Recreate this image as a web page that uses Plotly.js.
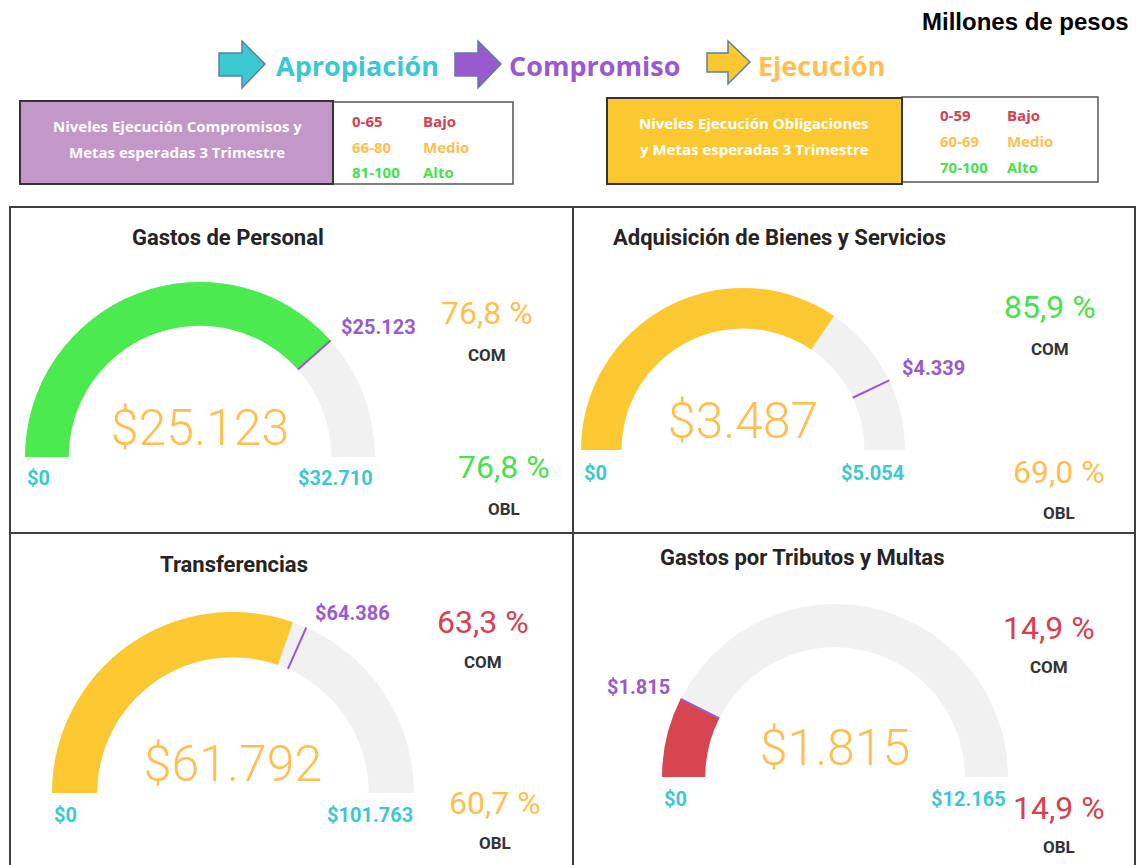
<!DOCTYPE html>
<html>
<head>
<meta charset="utf-8">
<script src="https://cdn.plot.ly/plotly-3.0.1.min.js"></script>
<style>
html,body{margin:0;padding:0;background:#fff;}
#chart{width:1137px;height:865px;}
</style>
</head>
<body>
<div id="chart"></div>
<script>
// ---------------- DATA ----------------
const categorias = ['Gastos de Personal', 'Adquisición de Bienes y Servicios', 'Transferencias', 'Gastos por Tributos y Multas'];
const apropiacion = [32710, 5054, 101763, 12165];   // Apropiación (máximo del medidor)
const compromiso  = [25123, 4339, 64386, 1815];     // Compromiso (umbral)
const obligacion  = [25123, 3487, 61792, 1815];     // Ejecución / obligación (valor)
const pctCom      = [76.8, 85.9, 63.3, 14.9];
const pctObl      = [76.8, 69.0, 60.7, 14.9];
const etapas      = ['Apropiación', 'Compromiso', 'Ejecución'];
const nivelesCom  = [['0-65', 'Bajo'], ['66-80', 'Medio'], ['81-100', 'Alto']];
const nivelesObl  = [['0-59', 'Bajo'], ['60-69', 'Medio'], ['70-100', 'Alto']];
const tituloCom   = ['Niveles Ejecución Compromisos y', 'Metas esperadas 3 Trimestre'];
const tituloObl   = ['Niveles Ejecución Obligaciones', 'y Metas esperadas 3 Trimestre'];
const unidad      = 'Millones de pesos';

// ---------------- STYLE ----------------
const W = 1137, H = 865;
const C = {
  green: '#4BEA4F', yellow: '#FCC831', red: '#D64550',
  tGreen: '#48E04C', tOrange: '#FFBE4F', tRed: '#D6404F',
  cyan: '#3CC8D0', purple: '#9B59D0', gray: '#F1F1F1', dark: '#252423',
  lilac: '#C397C8'
};
function levelCom(p){ return p <= 65 ? 0 : (p <= 80 ? 1 : 2); }
function levelObl(p){ return p < 60 ? 0 : (p < 70 ? 1 : 2); }
const textColors = [C.tRed, C.tOrange, C.tGreen];
const barColors = [C.red, C.yellow, C.green];
function money(v){ return '$' + Math.round(v).toString().replace(/\B(?=(\d{3})+(?!\d))/g, '.'); }
function pct(v){ return v.toFixed(1).replace('.', ',') + ' %'; }
const px = x => x / W;
const py = y => 1 - y / H;

// gauge geometry (pixels): center x, baseline y, radius
const geo = [
  {cx: 200, by: 457, r: 175},
  {cx: 743, by: 450, r: 162},
  {cx: 233, by: 793, r: 181},
  {cx: 835, by: 777, r: 173}
];
// text positions
const pos = [
  {title:[228,238], thr:[378,327], zero:[25,478], max:[375,478], com:[487,313], comL:[487,355], obl:[504,467], oblL:[504,509]},
  {title:[779,238], thr:[933,368], zero:[582,473], max:[906,473], com:[1050,307], comL:[1050,349], obl:[1059,472], oblL:[1059,513]},
  {title:[234,564], thr:[352,613], zero:[52,815], max:[415,815], com:[483,622], comL:[483,662], obl:[495,803], oblL:[495,843]},
  {title:[802,557], thr:[638,687], zero:[662,799], max:[1008,799], com:[1049,628], comL:[1049,667], obl:[1059,808], oblL:[1059,847]}
];

const traces = [];
const annotations = [];
const shapes = [];

function ann(text, x, y, o){
  o = o || {};
  annotations.push({
    text: text, x: px(x), y: py(y), xref: 'paper', yref: 'paper', showarrow: false,
    xanchor: o.xa || 'center', yanchor: o.ya || 'middle', align: o.align || 'center',
    font: {family: o.family || 'Roboto, sans-serif', size: o.size || 14, color: o.color || C.dark, weight: o.weight || 400}
  });
}

categorias.forEach((cat, i) => {
  const g = geo[i];
  const barCol = barColors[levelObl(pctObl[i])];
  traces.push({
    type: 'indicator', mode: 'gauge+number',
    value: obligacion[i],
    number: {prefix: '$', valueformat: ',.0f', font: {family: 'Roboto, sans-serif', size: 50, color: C.tOrange, weight: 300}},
    domain: {x: [px(g.cx - g.r), px(g.cx + g.r)], y: [py(g.by), py(g.by - g.r)]},
    gauge: {
      shape: 'angular',
      axis: {range: [0, apropiacion[i]], visible: false},
      bar: {color: barCol, thickness: 1, line: {width: 0}},
      bgcolor: C.gray, borderwidth: 0,
      threshold: {line: {color: C.purple, width: 2}, thickness: 1, value: compromiso[i]}
    }
  });
  const p = pos[i];
  ann('<b>' + cat + '</b>', p.title[0], p.title[1], {size: 22, weight: 700, color: C.dark});
  ann(money(compromiso[i]), p.thr[0], p.thr[1], {size: 20, weight: 700, color: C.purple});
  ann(money(0), p.zero[0], p.zero[1], {size: 20, weight: 700, color: C.cyan, xa: 'left'});
  ann(money(apropiacion[i]), p.max[0], p.max[1], {size: 20, weight: 700, color: C.cyan, xa: 'right'});
  ann(pct(pctCom[i]), p.com[0], p.com[1], {size: 32, weight: 400, color: textColors[levelCom(pctCom[i])]});
  ann('COM', p.comL[0], p.comL[1], {size: 17, weight: 700, color: '#333333'});
  ann(pct(pctObl[i]), p.obl[0], p.obl[1], {size: 32, weight: 400, color: textColors[levelObl(pctObl[i])]});
  ann('OBL', p.oblL[0], p.oblL[1], {size: 17, weight: 700, color: '#333333'});
});

// header text
ann('<b>' + unidad + '</b>', 1131, 22, {family: 'Liberation Sans, Arial, sans-serif', size: 24, weight: 700, color: '#000', xa: 'right'});

// arrows + stage labels
const arrowDefs = [
  {x0: 219, hx: 242, tip: 265, bt: 53, bb: 76, ht: 41, hb: 88, ty: 64, fill: C.cyan, text: 274, tcol: C.cyan},
  {x0: 455, hx: 478, tip: 501, bt: 53, bb: 76, ht: 41, hb: 88, ty: 64, fill: C.purple, text: 507, tcol: C.purple},
  {x0: 707, hx: 728, tip: 750, bt: 53, bb: 72, ht: 41, hb: 84, ty: 62, fill: C.yellow, text: 756, tcol: C.tOrange}
];
arrowDefs.forEach((a, k) => {
  const P = (x, y) => px(x) + ',' + py(y);
  shapes.push({
    type: 'path', xref: 'paper', yref: 'paper',
    path: 'M' + P(a.x0, a.bt) + ' L' + P(a.hx, a.bt) + ' L' + P(a.hx, a.ht) + ' L' + P(a.tip, a.ty) +
          ' L' + P(a.hx, a.hb) + ' L' + P(a.hx, a.bb) + ' L' + P(a.x0, a.bb) + ' Z',
    fillcolor: a.fill, line: {color: '#5A7FA8', width: 1.5}
  });
  ann('<b>' + etapas[k] + '</b>', a.text, 66, {family: 'Open Sans, sans-serif', size: 27, weight: 700, color: a.tcol, xa: 'left'});
});

// legend boxes
function rect(x0, y0, x1, y1, fill, lc, lw){
  shapes.push({type: 'rect', xref: 'paper', yref: 'paper', x0: px(x0), x1: px(x1), y0: py(y1), y1: py(y0),
    fillcolor: fill, line: {color: lc, width: lw}});
}
rect(333, 102, 513, 184, '#FFFFFF', '#555555', 1.5);
rect(20, 101, 333, 184, C.lilac, '#333333', 2);
rect(902, 97, 1098, 182, '#FFFFFF', '#555555', 1.5);
rect(607, 98, 902, 184, C.yellow, '#333333', 2);
tituloCom.forEach((t, k) => ann('<b>' + t + '</b>', 177, 126 + k * 26, {family: 'Open Sans, sans-serif', size: 15, weight: 700, color: '#FFFFFF'}));
tituloObl.forEach((t, k) => ann('<b>' + t + '</b>', 754, 123 + k * 26, {family: 'Open Sans, sans-serif', size: 15, weight: 700, color: '#FFFFFF'}));
nivelesCom.forEach((n, k) => {
  const y = 121 + k * 25.5;
  ann('<b>' + n[0] + '</b>', 350, y, {family: 'Open Sans, sans-serif', size: 15, weight: 700, color: textColors[k], xa: 'left'});
  ann('<b>' + n[1] + '</b>', 421, y, {family: 'Open Sans, sans-serif', size: 15, weight: 700, color: textColors[k], xa: 'left'});
});
nivelesObl.forEach((n, k) => {
  const y = 115 + k * 26;
  ann('<b>' + n[0] + '</b>', 938, y, {family: 'Open Sans, sans-serif', size: 15, weight: 700, color: textColors[k], xa: 'left'});
  ann('<b>' + n[1] + '</b>', 1005, y, {family: 'Open Sans, sans-serif', size: 15, weight: 700, color: textColors[k], xa: 'left'});
});

// panel grid
rect(10, 207, 1135, 866, 'rgba(0,0,0,0)', '#3F3F3F', 2);
shapes.push({type: 'line', xref: 'paper', yref: 'paper', x0: px(573), x1: px(573), y0: py(207), y1: py(866), line: {color: '#3F3F3F', width: 2}});
shapes.push({type: 'line', xref: 'paper', yref: 'paper', x0: px(10), x1: px(1135), y0: py(533), y1: py(533), line: {color: '#3F3F3F', width: 2}});

const layout = {
  width: W, height: H, margin: {l: 0, r: 0, t: 0, b: 0},
  paper_bgcolor: '#FFFFFF', plot_bgcolor: '#FFFFFF',
  separators: ',.',
  showlegend: false,
  annotations: annotations, shapes: shapes
};
Plotly.newPlot('chart', traces, layout, {displayModeBar: false, staticPlot: true});
</script>
</body>
</html>
